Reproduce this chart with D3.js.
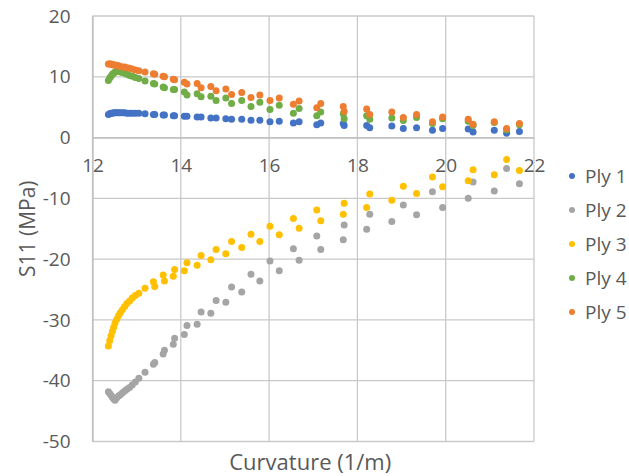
<!DOCTYPE html>
<html>
<head>
<meta charset="utf-8">
<script src="https://cdn.jsdelivr.net/npm/d3@7"></script>
<style>
  html, body { margin: 0; padding: 0; background: #fff; }
  svg { display: block; font-family: "Open Sans", Lato, sans-serif; }
</style>
</head>
<body>
<svg id="chart" width="629" height="476"></svg>
<script>
// Curvature (1/m) shared by every ply
const curvature = [12.36, 12.39, 12.42, 12.45, 12.48, 12.51, 12.55, 12.59, 12.63, 12.68,
  12.73, 12.78, 12.84, 12.90, 12.97, 13.05, 13.19, 13.38, 13.41, 13.60,
  13.63, 13.83, 13.86, 14.08, 14.14, 14.37, 14.46, 14.68, 14.80, 15.02,
  15.15, 15.38, 15.59, 15.79, 16.02, 16.23, 16.55, 16.68, 17.08, 17.17,
  17.68, 17.70, 18.21, 18.28, 18.78, 19.04, 19.34, 19.70, 19.93, 20.51,
  20.62, 21.10, 21.38, 21.67];

// S11 stress (MPa) per ply
const ply1 = [3.8, 3.9, 4.0, 4.0, 4.1, 4.1, 4.1, 4.1, 4.1, 4.1,
  4.1, 4.0, 4.0, 4.0, 4.0, 4.0, 3.9, 3.8, 3.8, 3.7,
  3.7, 3.6, 3.6, 3.5, 3.5, 3.4, 3.4, 3.2, 3.2, 3.1,
  3.0, 3.0, 2.85, 2.85, 2.6, 2.7, 2.4, 2.6, 2.1, 2.4,
  2.3, 2.0, 2.0, 1.6, 1.9, 1.5, 1.6, 1.2, 1.5, 1.4,
  0.9, 1.2, 0.7, 1.0];
const ply2 = [-41.8, -42.1, -42.4, -42.7, -43.0, -43.2, -42.8, -42.5, -42.3, -42.0,
  -41.7, -41.4, -41.1, -40.7, -40.2, -39.6, -38.6, -37.3, -37.0, -35.6,
  -35.0, -34.0, -33.0, -32.4, -30.9, -30.7, -28.7, -28.9, -26.8, -27.1,
  -24.6, -25.4, -22.5, -23.6, -20.3, -21.9, -18.3, -20.2, -16.2, -18.4,
  -16.8, -14.4, -15.1, -12.6, -13.8, -11.1, -12.7, -8.9, -11.5, -10.0,
  -7.3, -8.8, -5.1, -7.6];
const ply3 = [-34.3, -33.4, -32.6, -31.9, -31.2, -30.5, -29.9, -29.3, -28.8, -28.3,
  -27.8, -27.3, -26.9, -26.4, -26.0, -25.6, -24.8, -23.7, -24.5, -22.6,
  -23.6, -22.8, -21.7, -21.9, -20.6, -21.0, -19.4, -20.1, -18.4, -19.1,
  -17.1, -18.1, -15.9, -17.1, -14.6, -16.0, -13.3, -14.9, -11.9, -13.7,
  -12.6, -10.8, -11.5, -9.3, -10.3, -8.0, -9.2, -6.5, -8.1, -7.1,
  -5.3, -6.1, -3.6, -5.4];
const ply4 = [9.4, 9.8, 10.1, 10.4, 10.6, 10.8, 10.9, 10.9, 10.8, 10.7,
  10.6, 10.4, 10.2, 10.1, 9.9, 9.7, 9.3, 8.9, 8.8, 8.3,
  8.2, 7.9, 7.9, 7.5, 7.0, 7.2, 6.7, 6.8, 6.1, 6.5,
  5.6, 6.1, 5.1, 5.8, 4.6, 5.3, 4.0, 4.8, 3.6, 4.2,
  3.9, 3.1, 3.6, 3.0, 3.2, 2.8, 3.3, 2.3, 3.1, 2.7,
  2.0, 2.5, 1.3, 2.1];
const ply5 = [12.1, 12.1, 12.1, 12.0, 12.0, 11.9, 11.9, 11.8, 11.7, 11.6,
  11.6, 11.5, 11.4, 11.3, 11.1, 11.0, 10.8, 10.5, 10.4, 10.1,
  10.0, 9.6, 9.5, 9.1, 8.8, 8.9, 8.2, 8.4, 7.7, 8.0,
  7.1, 7.4, 6.6, 7.0, 6.1, 6.5, 5.5, 6.0, 4.9, 5.6,
  5.1, 4.3, 4.7, 3.8, 4.2, 3.3, 3.8, 2.6, 3.4, 3.0,
  2.2, 2.6, 1.5, 2.3];

const seriesNames = ["Ply 1", "Ply 2", "Ply 3", "Ply 4", "Ply 5"];
const seriesValues = [ply1, ply2, ply3, ply4, ply5];
const seriesColors = ["#4472C4", "#A5A5A5", "#FFC000", "#70AD47", "#ED7D31"];

const xTicks = [12, 14, 16, 18, 20, 22];
const yTicks = [20, 10, 0, -10, -20, -30, -40, -50];

const svg = d3.select("#chart");
const plot = { left: 92.5, right: 534, top: 16, bottom: 441.5 };

const x = d3.scaleLinear().domain([12, 22]).range([plot.left, plot.right]);
const y = d3.scaleLinear().domain([-50, 20]).range([plot.bottom, plot.top]);

const textColor = "#595959";
const gridColor = "#c9c9c9";
const fontFamily = "'Open Sans', Lato, sans-serif";
const plainNumber = d => String(d);  // ASCII hyphen for negatives

// gridlines
const grid = svg.append("g");
grid.selectAll("line.v").data(xTicks).join("line")
  .attr("x1", d => x(d)).attr("x2", d => x(d))
  .attr("y1", plot.top).attr("y2", plot.bottom)
  .attr("stroke", gridColor).attr("stroke-width", 1.3);
grid.selectAll("line.h").data(yTicks).join("line")
  .attr("x1", plot.left).attr("x2", plot.right)
  .attr("y1", d => y(d)).attr("y2", d => y(d))
  .attr("stroke", gridColor).attr("stroke-width", 1.3);

// y axis (left, at x = 12)
const yAxis = d3.axisLeft(y).tickValues(yTicks).tickFormat(plainNumber)
  .tickSize(0).tickPadding(22);
const gy = svg.append("g").attr("transform", `translate(${plot.left},0)`).call(yAxis);
gy.select(".domain").attr("stroke", "#bfbfbf").attr("stroke-width", 1.3);
gy.selectAll("text").attr("fill", textColor).style("font-size", "19px")
  .style("font-family", fontFamily);

// x axis crossing at y = 0
const xAxis = d3.axisBottom(x).tickValues(xTicks).tickFormat(plainNumber)
  .tickSize(0).tickPadding(21);
const gx = svg.append("g").attr("transform", `translate(0,${y(0)})`).call(xAxis);
gx.select(".domain").attr("stroke", "#bfbfbf").attr("stroke-width", 1.3);
gx.selectAll("text").attr("fill", textColor).style("font-size", "19px")
  .style("font-family", fontFamily);

// axis titles
svg.append("text")
  .attr("x", (plot.left + plot.right) / 2 - 3).attr("y", 470)
  .attr("text-anchor", "middle").attr("fill", textColor)
  .style("font-size", "22px").text("Curvature (1/m)");
svg.append("text")
  .attr("transform", `translate(35,${(plot.top + plot.bottom) / 2}) rotate(-90)`)
  .attr("text-anchor", "middle").attr("fill", textColor)
  .style("font-size", "21px").text("S11 (MPa)");

// scatter points
seriesValues.forEach((vals, i) => {
  svg.append("g").selectAll("circle")
    .data(curvature.map((c, j) => [c, vals[j]]))
    .join("circle")
    .attr("cx", d => x(d[0])).attr("cy", d => y(d[1]))
    .attr("r", 3.5).attr("fill", seriesColors[i]);
});

// legend
const legend = svg.append("g");
seriesNames.forEach((name, i) => {
  const cy = 176 + i * 34;
  legend.append("circle").attr("cx", 572).attr("cy", cy).attr("r", 3)
    .attr("fill", seriesColors[i]);
  legend.append("text").attr("x", 585).attr("y", cy).attr("dy", "0.35em")
    .attr("fill", textColor).style("font-size", "19px").text(name);
});
</script>
</body>
</html>
